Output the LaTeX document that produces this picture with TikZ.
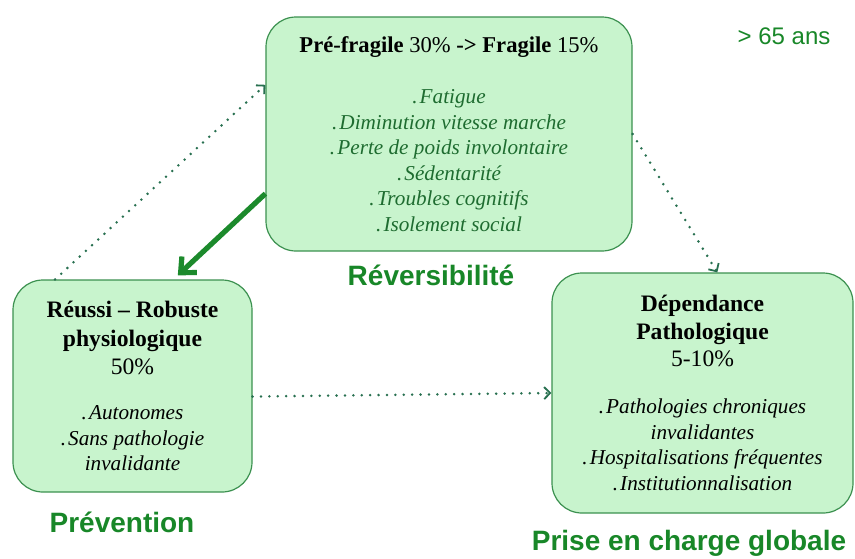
\documentclass[tikz,border=0pt]{standalone}
\usepackage{fontspec}
\setmainfont{Liberation Serif}
\newfontfamily\labelfont{Liberation Sans}
\usetikzlibrary{arrows.meta}

\definecolor{boxfill}{RGB}{200,244,205}
\definecolor{boxline}{RGB}{60,145,80}
\definecolor{signgreen}{RGB}{30,108,48}
\definecolor{labelgreen}{RGB}{24,135,40}
\definecolor{dotgreen}{RGB}{40,112,80}
\definecolor{arrowgreen}{RGB}{28,138,44}

\newcommand{\boxtitle}[1]{{\fontsize{11.8}{12.75}\selectfont #1}}
\newcommand{\symptom}[1]{{\color{signgreen}\itshape .\kern0.1em#1}}
\newcommand{\trait}[1]{{\itshape .\kern0.1em#1}}

\tikzstyle{stagebox}=[draw=boxline, fill=boxfill, line width=0.6pt, rounded corners=15pt, align=center, font=\fontsize{10.6}{12.75}\selectfont]
\tikzstyle{phase}=[font=\labelfont\bfseries\fontsize{14}{16}\selectfont, text=labelgreen]
\tikzstyle{dotarrow}=[dotgreen, line width=1.4pt, line cap=round, dash pattern=on 0pt off 4.2pt, -{Straight Barb[length=3pt,width=6pt,line width=0.9pt]}]
\tikzstyle{bigarrow}=[arrowgreen, line width=2.6pt, -{Straight Barb[length=6pt,width=11pt]}]

\begin{document}
\begin{tikzpicture}[x=0.5pt, y=-0.5pt]
\useasboundingbox (0,0) rectangle (855,558);

\node[stagebox, minimum width=183pt, minimum height=117pt] (pref) at (449,134)
  {{\fontsize{11.3}{12.75}\selectfont\textbf{Pré-fragile} 30\% \textbf{->} \textbf{Fragile} 15\%}\\[12.75pt]
   \symptom{Fatigue}\\ \symptom{Diminution vitesse marche}\\ \symptom{Perte de poids involontaire}\\
   \symptom{Sédentarité}\\ \symptom{Troubles cognitifs}\\ \symptom{Isolement social}};

\node[stagebox, minimum width=119.5pt, minimum height=106pt] (reussi) at (132.5,386)
  {\boxtitle{\bfseries Réussi – Robuste}\\[1.5pt] \boxtitle{\bfseries physiologique}\\[1.5pt] \boxtitle{50\%}\\[9.75pt]
   \trait{Autonomes}\\ \trait{Sans pathologie}\\ \textit{invalidante}};

\node[stagebox, minimum width=150.5pt, minimum height=120pt] (dep) at (702.5,393)
  {\boxtitle{\bfseries Dépendance}\\[1pt] \boxtitle{\bfseries Pathologique}\\[1pt] \boxtitle{5-10\%}\\[10.75pt]
   \trait{Pathologies chroniques}\\ \textit{invalidantes}\\ \trait{Hospitalisations fréquentes}\\ \trait{Institutionnalisation}};

\node[phase] (revers) at (431,275) {Réversibilité};
\node[phase] (prev) at (122,522) {Prévention};
\node[phase] (prise) at (689,543) {Prise en charge globale};
\node[font=\labelfont\fontsize{12}{14}\selectfont, text=labelgreen] (age) at (784,36) {> 65 ans};

\draw[dotarrow] (reussi.126) -- (pref.165);
\draw[bigarrow, shorten >=3pt] (pref.198) -- (reussi.69);
\draw[dotarrow] (pref.east) -- (dep.83);
\draw[dotarrow] (reussi.-5) -- (dep.west);
\end{tikzpicture}
\end{document}
